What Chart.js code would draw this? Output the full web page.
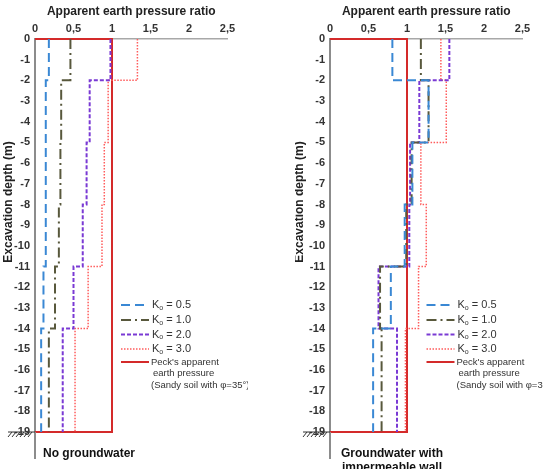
<!DOCTYPE html>
<html>
<head>
<meta charset="utf-8">
<script src="https://cdn.jsdelivr.net/npm/chart.js@4"></script>
<style>
  body { margin: 0; background: #fff; }
  #wrap { position: relative; width: 543px; height: 469px; overflow: hidden; font-family: "Liberation Sans", Arial, sans-serif; }
  canvas { position: absolute; top: 0; }
  #cLeft { left: 0; }
  #cRight { left: 295px; }
  .cap { position: absolute; font-weight: bold; font-size: 12px; color: #111; line-height: 14px; }
</style>
</head>
<body>
<div id="wrap">
  <canvas id="cLeft" width="248" height="469"></canvas>
  <canvas id="cRight" width="248" height="469"></canvas>
  <div class="cap" style="left:43px;top:446px">No groundwater</div>
  <div class="cap" style="left:332px;top:446px;width:120px;text-align:center">Groundwater with<br>impermeable wall</div>
</div>
<script>
// depth of each step boundary (m)
const depthBreaks = [0, -2, -5, -8, -11, -14, -19];
const koLabels = ['0.5', '1.0', '2.0', '3.0'];

// apparent earth pressure ratio per depth segment, no groundwater
const ko05NoGw = [0.18, 0.14, 0.14, 0.14, 0.11, 0.08];
const ko10NoGw = [0.46, 0.34, 0.33, 0.31, 0.26, 0.18];
const ko20NoGw = [0.98, 0.71, 0.67, 0.62, 0.50, 0.36];
const ko30NoGw = [1.33, 0.95, 0.90, 0.87, 0.69, 0.52];

// groundwater with impermeable wall
const ko05Gw = [0.81, 1.28, 1.07, 0.97, 0.79, 0.56];
const ko10Gw = [1.18, 1.28, 1.06, 0.99, 0.65, 0.67];
const ko20Gw = [1.55, 1.16, 1.04, 1.03, 0.63, 0.87];
const ko30Gw = [1.44, 1.51, 1.18, 1.25, 1.15, 0.98];

// Peck's envelope
const peckX = [0, 1, 1, 0];
const peckY = [0, 0, -19, -19];

const xTicks = [0, 0.5, 1, 1.5, 2, 2.5];

const koStyles = [
  { color: '#3a88d4', dash: [9, 5], width: 2 },
  { color: '#58583c', dash: [10, 4, 2, 4], width: 2 },
  { color: '#7a3ad4', dash: [4, 2], width: 2 },
  { color: '#ff5c5c', dash: [1.5, 1.5], width: 1.5 }
];

function steps(values) {
  const pts = [];
  values.forEach((v, i) => {
    pts.push({ x: v, y: depthBreaks[i] });
    pts.push({ x: v, y: depthBreaks[i + 1] });
  });
  return pts;
}

function buildDatasets(series) {
  const ds = series.map((vals, i) => ({
    label: koLabels[i],
    data: steps(vals),
    borderColor: koStyles[i].color,
    borderDash: koStyles[i].dash,
    borderWidth: koStyles[i].width
  }));
  ds.push({
    label: 'peck',
    data: peckX.map((x, i) => ({ x: x, y: peckY[i] })),
    borderColor: '#d42a2a',
    borderDash: [],
    borderWidth: 2
  });
  ds.forEach(d => {
    d.showLine = true;
    d.pointRadius = 0;
    d.pointHoverRadius = 0;
    d.tension = 0;
    d.clip = 6;
  });
  return ds;
}

const decor = {
  id: 'decor',
  afterDraw(chart, args, opts) {
    const { ctx, chartArea: a } = chart;
    ctx.save();
    // axis running on below the base
    ctx.strokeStyle = '#8c8c8c';
    ctx.lineWidth = 2;
    ctx.beginPath();
    ctx.moveTo(a.left, a.bottom);
    ctx.lineTo(a.left, a.bottom + 27);
    ctx.stroke();
    // ground hatch at the base
    ctx.strokeStyle = '#333';
    ctx.lineWidth = 1;
    ctx.beginPath();
    ctx.moveTo(a.left - 27, a.bottom);
    ctx.lineTo(a.left, a.bottom);
    for (let hx = a.left - 27; hx < a.left - 6; hx += 4) {
      ctx.moveTo(hx, a.bottom + 5);
      ctx.lineTo(hx + 4, a.bottom);
    }
    ctx.stroke();

    // y title
    ctx.fillStyle = '#222';
    ctx.font = 'bold 12px "Liberation Sans", Arial, sans-serif';
    ctx.textAlign = 'center';
    ctx.textBaseline = 'middle';
    ctx.save();
    ctx.translate(opts.titleX, 202);
    ctx.rotate(-Math.PI / 2);
    ctx.fillText('Excavation depth (m)', 0, 0);
    ctx.restore();

    // legend
    const rows = [305, 320, 334.5, 349, 362];
    ctx.textAlign = 'left';
    chart.data.datasets.forEach((d, i) => {
      const ly = rows[i];
      ctx.strokeStyle = d.borderColor;
      ctx.lineWidth = d.borderWidth;
      ctx.setLineDash(d.borderDash);
      ctx.beginPath();
      ctx.moveTo(opts.legendX, ly);
      ctx.lineTo(opts.legendX + 28, ly);
      ctx.stroke();
      ctx.setLineDash([]);
      ctx.fillStyle = '#333';
      const tx = opts.legendX + 31;
      if (d.label === 'peck') {
        ctx.font = '9.5px "Liberation Sans", Arial, sans-serif';
        ctx.fillText("Peck's apparent", tx - 1, ly);
        ctx.fillText('earth pressure', tx + 1, ly + 11.5);
        ctx.fillText('(Sandy soil with \u03c6=35\u00b0)', tx - 1, ly + 23);
      } else {
        ctx.font = '11px "Liberation Sans", Arial, sans-serif';
        ctx.fillText('K', tx, ly);
        const kw = ctx.measureText('K').width;
        ctx.font = '7px "Liberation Sans", Arial, sans-serif';
        ctx.fillText('o', tx + kw, ly + 3);
        const ow = ctx.measureText('o').width;
        ctx.font = '11px "Liberation Sans", Arial, sans-serif';
        ctx.fillText(' = ' + d.label, tx + kw + ow, ly);
      }
    });
    ctx.restore();
  }
};

function makeChart(id, series, titleX, legendX) {
  new Chart(document.getElementById(id), {
    type: 'scatter',
    data: { datasets: buildDatasets(series) },
    plugins: [decor],
    options: {
      responsive: false,
      animation: false,
      layout: { padding: { left: 0, top: 0, right: 20.5, bottom: 37 } },
      scales: {
        x: {
          position: 'top',
          min: 0,
          max: 2.5,
          afterBuildTicks: s => { s.ticks = xTicks.map(v => ({ value: v })); },
          afterFit: s => { s.height = 39; },
          grid: { display: false, drawTicks: false },
          border: { display: true, color: '#a8a8a8', width: 1.5 },
          ticks: {
            padding: 3,
            color: '#333',
            font: { size: 11, weight: 'bold', family: '"Liberation Sans", Arial, sans-serif' },
            callback: v => String(v).replace('.', ',')
          },
          title: {
            display: true,
            text: 'Apparent earth pressure ratio',
            color: '#222',
            padding: { top: 4, bottom: 0 },
            font: { size: 12, weight: 'bold', family: '"Liberation Sans", Arial, sans-serif' }
          }
        },
        y: {
          min: -19,
          max: 0,
          afterFit: s => { s.width = 35; },
          grid: { display: false, drawTicks: false },
          border: { display: true, color: '#8c8c8c', width: 2 },
          ticks: {
            stepSize: 1,
            padding: 5,
            color: '#333',
            font: { size: 11, weight: 'bold', family: '"Liberation Sans", Arial, sans-serif' }
          }
        }
      },
      plugins: {
        legend: { display: false },
        tooltip: { enabled: false },
        decor: { titleX: titleX, legendX: legendX }
      }
    }
  });
}

makeChart('cLeft', [ko05NoGw, ko10NoGw, ko20NoGw, ko30NoGw], 8.5, 121);
makeChart('cRight', [ko05Gw, ko10Gw, ko20Gw, ko30Gw], 4.5, 131.5);
</script>
</body>
</html>
